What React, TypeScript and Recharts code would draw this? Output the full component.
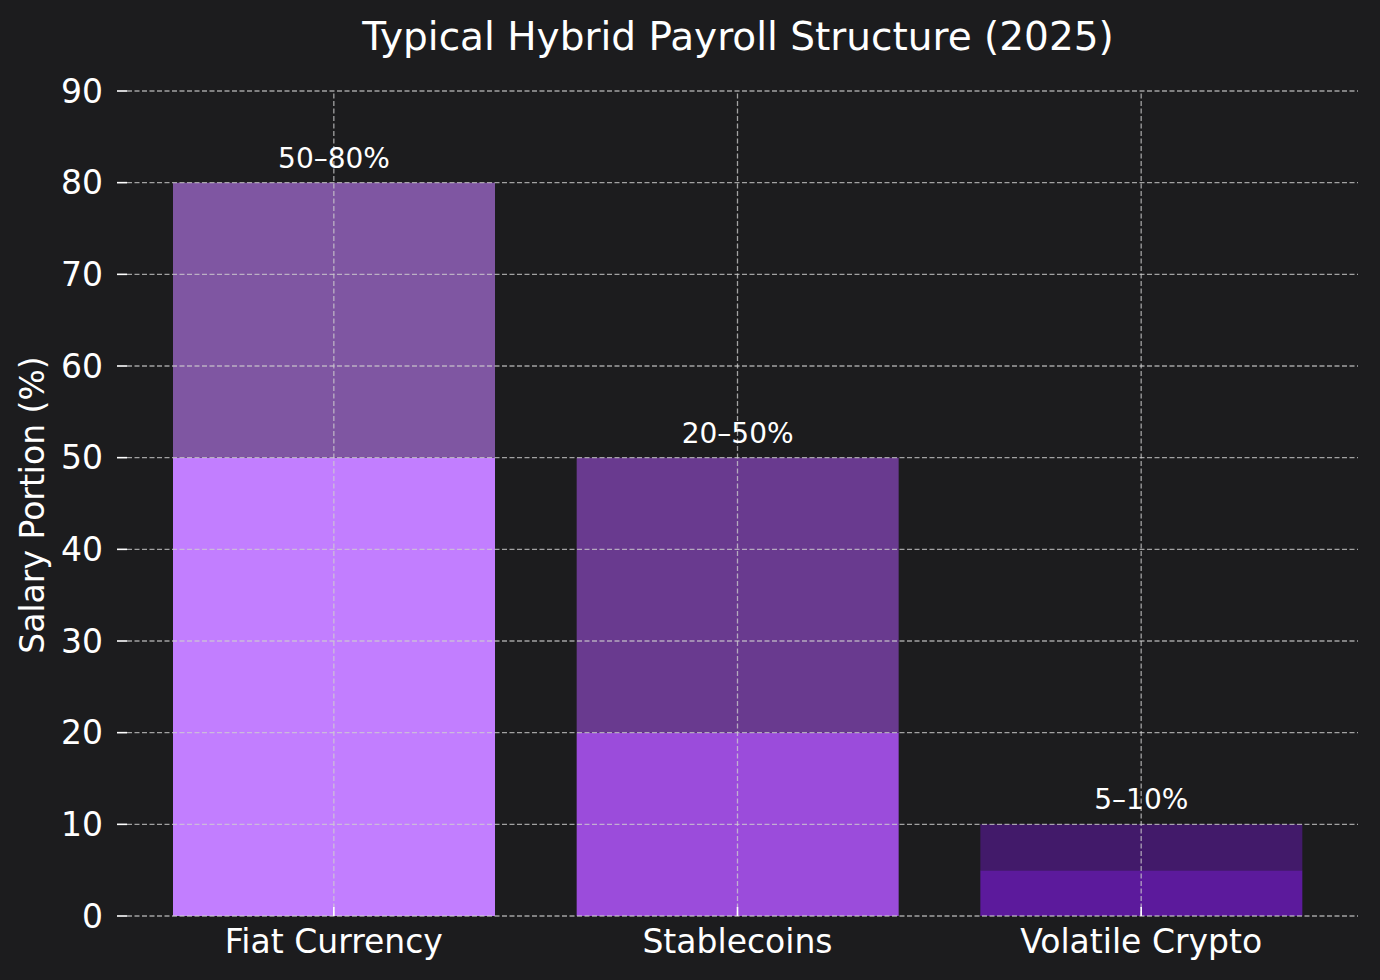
import React from "react";
import {BarChart, Bar, XAxis, YAxis, Cell, LabelList, ReferenceLine} from "recharts";

const categories = ["Fiat Currency", "Stablecoins", "Volatile Crypto"];
const minShare = [50, 20, 5];
const maxShare = [80, 50, 10];
const rangeLabels = ["50–80%", "20–50%", "5–10%"];
const yTicks = [0, 10, 20, 30, 40, 50, 60, 70, 80, 90];

const baseColors = ["#c27eff", "#9b4cdb", "#5c1a9c"];
const rangeColors = ["#7f56a2", "#693a8f", "#421a6a"];

const data = categories.map((name, i) => ({
    name,
    min: minShare[i],
    range: maxShare[i] - minShare[i],
    label: rangeLabels[i],
}));

const FONT = "'DejaVu Sans', sans-serif";
const BG = "#1c1c1e";
const gridStyle = {stroke: "#cfcfcf", strokeOpacity: 0.75, strokeWidth: 1.3, strokeDasharray: "5 2.5"};

const XTick = (props: any) => {
    const {x, y, payload} = props;
    return (
        <g>
            <line x1={x} x2={x} y1={y} y2={y - 9} stroke="#ffffff" strokeWidth={1.6}/>
            <text x={x} y={y + 37} textAnchor="middle" fill="#ffffff" fontSize={33} fontFamily={FONT}>
                {payload.value}
            </text>
        </g>
    );
};

const YTitle = () => (
    <text x={44} y={505} transform="rotate(-90 44 505)" textAnchor="middle" fill="#ffffff"
          fontSize={33} fontFamily={FONT}>
        Salary Portion (%)
    </text>
);

export default function App() {
    return (
        <div style={{position: "relative", width: 1380, height: 980, background: BG, fontFamily: FONT}}>
            <style>{"body{margin:0;background:#1c1c1e}"}</style>
            <div style={{
                position: "absolute", top: 13, left: 0, width: 1476, textAlign: "center",
                color: "#ffffff", fontSize: 39, lineHeight: "48px"
            }}>
                Typical Hybrid Payroll Structure (2025)
            </div>
            <BarChart width={1380} height={980} data={data}
                      margin={{top: 91, right: 22, bottom: 0, left: 0}}>
                <XAxis dataKey="name" type="category" height={64} axisLine={false} tickLine={false}
                       tickSize={0} tickMargin={0} padding={{left: 5, right: 15}} tick={<XTick/>}
                       interval={0}/>
                <YAxis type="number" domain={[0, 90]} ticks={yTicks} width={127} axisLine={false}
                       tickSize={10} tickMargin={14} interval={0}
                       tickLine={{stroke: "#ffffff", strokeWidth: 1.6}}
                       tick={{fill: "#ffffff", fontSize: 33, fontFamily: FONT}}
                       label={<YTitle/>}/>
                <Bar dataKey="min" stackId="a" barSize={322} isAnimationActive={false}>
                    {data.map((d, i) => <Cell key={d.name} fill={baseColors[i]}/>)}
                </Bar>
                <Bar dataKey="range" stackId="a" barSize={322} isAnimationActive={false}>
                    {data.map((d, i) => <Cell key={d.name} fill={rangeColors[i]}/>)}
                    <LabelList dataKey="label" position="top" offset={15} fill="#ffffff"
                               fontSize={28} fontFamily={FONT}/>
                </Bar>
                {yTicks.map(t => <ReferenceLine key={"h" + t} y={t} {...gridStyle}/>)}
                {categories.map(c => <ReferenceLine key={"v" + c} x={c} {...gridStyle}/>)}
            </BarChart>
        </div>
    );
}
